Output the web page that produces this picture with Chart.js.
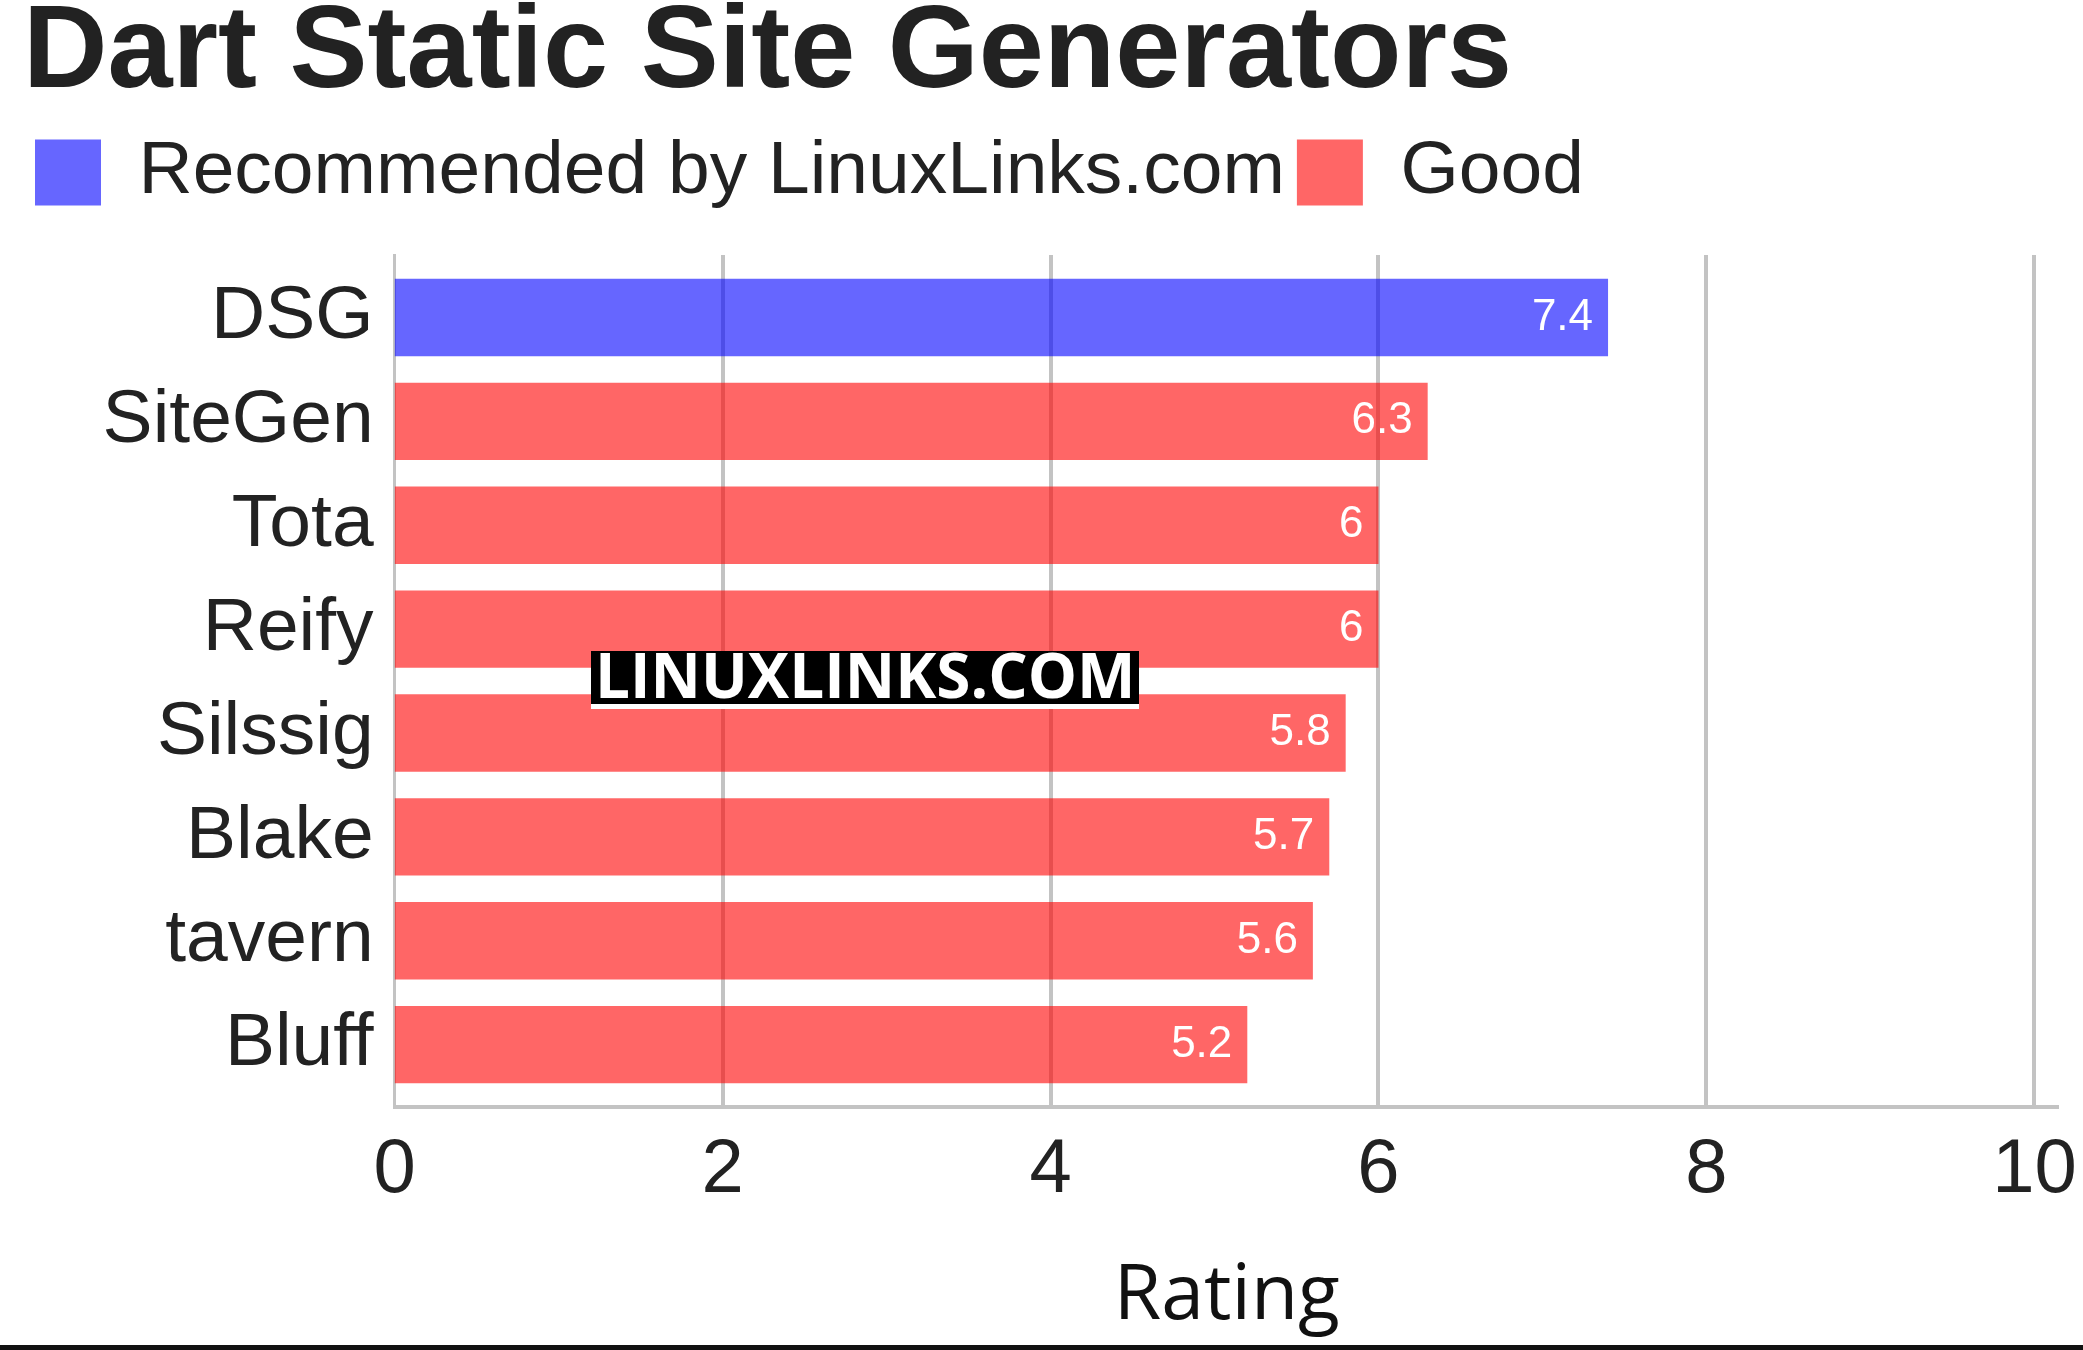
<!DOCTYPE html>
<html>
<head>
<meta charset="utf-8">
<title>Dart Static Site Generators</title>
<script src="https://cdn.jsdelivr.net/npm/chart.js@4.4.1/dist/chart.umd.min.js"></script>
<style>
    body { margin: 0; background: #fff; }
    #wrap { position: relative; width: 2083px; height: 1350px; }
    #watermark {
        position: absolute; left: 591px; top: 651px; height: 53px;
        padding: 0 4px; background: #000; color: #fff;
        font: bold 62px "Open Sans", sans-serif; line-height: 47px;
        white-space: nowrap; overflow: hidden;
        border-bottom: 5px solid #fff;
    }
    #bottomline { position: absolute; left: 0; top: 1345px; width: 2083px; height: 5px; background: #111; }
</style>
</head>
<body>
<div id="wrap">
    <canvas id="ratingChart"></canvas>
    <div id="watermark">LINUXLINKS.COM</div>
    <div id="bottomline"></div>
</div>
<script>
// chart data
const tools = ["DSG", "SiteGen", "Tota", "Reify", "Silssig", "Blake", "tavern", "Bluff"];
const ratings = [7.4, 6.3, 6, 6, 5.8, 5.7, 5.6, 5.2];
const recommendedTools = ["DSG"];
const xTicks = [0, 2, 4, 6, 8, 10];

const blue = "rgba(0, 0, 255, 0.6)";
const red = "rgba(255, 0, 0, 0.6)";
const gridGray = "rgb(195, 195, 195)";

Chart.defaults.font.family = '"Liberation Sans", Arial, sans-serif';
Chart.defaults.color = "#222";

// bars on a linear index axis: point i sits at y = i
function pointsFor(recommended) {
    return tools
        .map((name, i) => ({ x: ratings[i], y: i, name: name }))
        .filter(p => recommendedTools.includes(p.name) === recommended);
}

// white value text at the end of each bar
const barValues = {
    id: "barValues",
    afterDatasetsDraw(chart) {
        const ctx = chart.ctx;
        ctx.save();
        ctx.font = '44px "Liberation Sans", Arial, sans-serif';
        ctx.fillStyle = "#fff";
        ctx.textAlign = "right";
        ctx.textBaseline = "middle";
        chart.data.datasets.forEach((ds, di) => {
            chart.getDatasetMeta(di).data.forEach((bar, i) => {
                ctx.fillText(String(ds.data[i].x), bar.x - 15, bar.y);
            });
        });
        ctx.restore();
    }
};

const ctx = document.getElementById("ratingChart").getContext("2d");
new Chart(ctx, {
    type: "bar",
    data: {
        datasets: [
            {
                label: "Recommended by LinuxLinks.com",
                data: pointsFor(true),
                backgroundColor: blue,
                xAxisID: "x",
                yAxisID: "y"
            },
            {
                label: "Good",
                data: pointsFor(false),
                backgroundColor: red,
                xAxisID: "x",
                yAxisID: "y"
            }
        ]
    },
    options: {
        indexAxis: "y",
        responsive: true,
        maintainAspectRatio: false,
        animation: false,
        datasets: {
            bar: { grouped: false, categoryPercentage: 1, barPercentage: 0.745 }
        },
        layout: { padding: { left: 23, right: 24, top: 0, bottom: 0 } },
        plugins: {
            title: {
                display: true,
                text: "Dart Static Site Generators",
                align: "start",
                color: "#222",
                font: { size: 117, weight: "bold", lineHeight: 0.7 },
                padding: { top: 14, bottom: 27 }
            },
            legend: {
                position: "top",
                align: "start",
                labels: {
                    boxWidth: 66,
                    boxHeight: 66,
                    padding: 12,
                    color: "#222",
                    font: { size: 75 }
                }
            },
            tooltip: { enabled: false }
        },
        scales: {
            x: {
                type: "linear",
                position: "bottom",
                min: 0,
                max: 10.15,
                afterFit: s => { s.height = 243; },
                ticks: {
                    stepSize: 2,
                    includeBounds: false,
                    maxRotation: 0,
                    padding: 0,
                    color: "#222",
                    font: { size: 76 },
                    callback: v => xTicks.includes(v) ? v : ""
                },
                grid: {
                    color: gridGray,
                    lineWidth: c => c.index === 0 ? 0 : 4,
                    drawTicks: true,
                    tickLength: 18,
                    tickColor: "rgba(0, 0, 0, 0)"
                },
                border: { color: gridGray, width: 4 },
                title: {
                    display: true,
                    text: "Rating",
                    color: "#111",
                    font: { family: '"Open Sans", sans-serif', size: 77 },
                    padding: { top: 0, bottom: 7 }
                }
            },
            xTop: {
                type: "linear",
                axis: "x",
                position: "top",
                afterFit: s => { s.height = 35.2; },
                ticks: { display: false },
                grid: { display: false },
                border: { display: false }
            },
            y: {
                type: "linear",
                offset: false,
                min: -0.6,
                max: 7.6,
                reverse: true,
                afterFit: s => { s.width = 371.6; },
                ticks: {
                    stepSize: 1,
                    includeBounds: false,
                    padding: 13,
                    color: "#222",
                    font: { size: 75 },
                    callback: v => tools[v]
                },
                grid: { display: false, offset: false },
                border: { color: gridGray, width: 3 }
            }
        }
    },
    plugins: [barValues]
});
</script>
</body>
</html>
